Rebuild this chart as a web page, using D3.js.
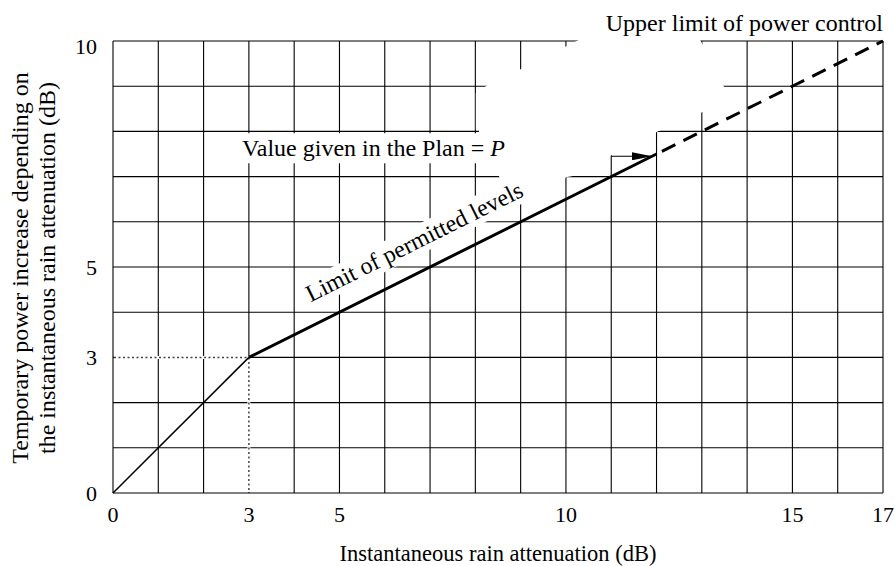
<!DOCTYPE html>
<html><head><meta charset="utf-8">
<script src="https://cdn.jsdelivr.net/npm/d3@7"></script>
<style>
html,body{margin:0;padding:0;background:#fff;}
svg{display:block;font-family:"Liberation Serif","Times New Roman",serif;}
</style></head>
<body><svg id="chart" width="895" height="566"></svg>
<script>
// ---- data ----
const attenuation   = [0, 3, 12, 17];      // x (dB)
const powerIncrease = [0, 3, 7.5, 10];     // y (dB)
const segmentStyle  = ["thin", "thick", "dashed"];
const xTickValues = [0, 3, 5, 10, 15, 17];
const yTickValues = [0, 3, 5, 10];
const gridXValues = d3.range(0, 18);
const gridYValues = d3.range(0, 11);
const kneeX = 3, kneeY = 3;
const planArrowX = [11, 11.9];
const planArrowY = 7.45;
const planLabelX = 2.85;
const limitLabelAt = [6.73, 5.4];
const xTitle = "Instantaneous rain attenuation (dB)";
const yTitle = ["Temporary power increase depending on", "the instantaneous rain attenuation (dB)"];
const limitLabel = "Limit of permitted levels";
const planLabel = "Value given in the Plan = ";
const planSymbol = "P";
const upperLabel = "Upper limit of power control";
// blank (unruled) area of the chart, in data units
const blankRegion = [[10.38,10.07],[12.94,10.07],[13.49,8.98],[13.07,8.45],[12.05,8.01],[11.06,7.50],
  [10.13,7.01],[10.02,6.99],[9.03,6.44],[8.54,6.97],[8.08,7.88],[8.08,8.03],[8.01,8.05],[8.01,8.85],[8.28,9.03],[9.01,9.38]];

// ---- layout ----
const svg = d3.select("#chart");
const x = d3.scaleLinear([0, 17], [113, 883]);
const y = d3.scaleLinear([0, 10], [493, 41]);

// grid
const g = svg.append("g");
g.selectAll(".vx").data(gridXValues).join("line")
  .attr("x1", d => x(d)).attr("x2", d => x(d)).attr("y1", y(0)).attr("y2", y(10))
  .attr("stroke", "#000").attr("stroke-width", 1.1);
g.selectAll(".hy").data(gridYValues).join("line")
  .attr("y1", d => y(d)).attr("y2", d => y(d)).attr("x1", x(0)).attr("x2", x(17))
  .attr("stroke", "#000").attr("stroke-width", 1.1);

// blank region
svg.append("path")
  .attr("d", d3.line().x(d => x(d[0])).y(d => y(d[1]))(blankRegion) + "Z")
  .attr("fill", "#fff");

// text with white background helper
function boxed(textSel, pad) {
  const bb = textSel.node().getBBox();
  const parent = d3.select(textSel.node().parentNode);
  parent.insert("rect", () => textSel.node())
    .attr("x", bb.x - pad[0]).attr("y", bb.y - pad[1])
    .attr("width", bb.width + 2 * pad[0]).attr("height", bb.height + 2 * pad[1])
    .attr("fill", "#fff");
}

// plan label
const planG = svg.append("g");
const planText = planG.append("text")
  .attr("x", x(planLabelX)).attr("y", y(planArrowY))
  .attr("font-size", 24).attr("fill", "#000");
planText.append("tspan").text(planLabel);
planText.append("tspan").attr("font-style", "italic").text(planSymbol);
boxed(planText, [1, 2]);

// limit label (rotated along the line)
const angle = Math.atan2(y(powerIncrease[2]) - y(powerIncrease[1]), x(attenuation[2]) - x(attenuation[1])) * 180 / Math.PI;
const limG = svg.append("g")
  .attr("transform", `translate(${x(limitLabelAt[0])},${y(limitLabelAt[1])}) rotate(${angle})`);
const limText = limG.append("text").attr("text-anchor", "middle")
  .attr("font-size", 24).attr("fill", "#000").text(limitLabel);
boxed(limText, [2, 1]);

// dotted guides (replace the ruling under them)
const guide = `M${x(0) + 1},${y(kneeY)}H${x(kneeX)}V${y(0) - 1}`;
svg.append("path").attr("d", guide)
  .attr("fill", "none").attr("stroke", "#fff").attr("stroke-width", 3);
svg.append("path").attr("d", guide)
  .attr("fill", "none").attr("stroke", "#444").attr("stroke-width", 1.5)
  .attr("stroke-dasharray", "2,2.5");

// limit curve
const pts = attenuation.map((a, i) => [x(a), y(powerIncrease[i])]);
segmentStyle.forEach((s, i) => {
  svg.append("line")
    .attr("x1", pts[i][0]).attr("y1", pts[i][1]).attr("x2", pts[i + 1][0]).attr("y2", pts[i + 1][1])
    .attr("stroke", "#000")
    .attr("stroke-width", s === "thin" ? 1.5 : 3)
    .attr("stroke-dasharray", s === "dashed" ? "15,9" : null)
    .attr("stroke-dashoffset", s === "dashed" ? -6 : null);
});

// plan arrow
svg.append("defs").append("marker").attr("id", "ah")
  .attr("viewBox", "0 0 20 8").attr("refX", 20).attr("refY", 4)
  .attr("markerWidth", 20).attr("markerHeight", 8).attr("markerUnits", "userSpaceOnUse")
  .attr("orient", "auto")
  .append("path").attr("d", "M0,0L20,4L0,8Z").attr("fill", "#000");
svg.append("line")
  .attr("x1", x(planArrowX[0])).attr("x2", x(planArrowX[1]))
  .attr("y1", y(planArrowY)).attr("y2", y(planArrowY))
  .attr("stroke", "#000").attr("stroke-width", 1)
  .attr("marker-end", "url(#ah)");

// upper label
svg.append("text").attr("x", x(17)).attr("y", y(10) - 10)
  .attr("text-anchor", "end").attr("font-size", 24).text(upperLabel);

// ticks
svg.selectAll(".xt").data(xTickValues).join("text")
  .attr("x", d => x(d)).attr("y", y(0) + 29).attr("text-anchor", "middle")
  .attr("font-size", 22).text(d => d);
svg.selectAll(".yt").data(yTickValues).join("text")
  .attr("x", x(0) - 16).attr("y", d => Math.max(y(d) + 8, y(10) + 13)).attr("text-anchor", "end")
  .attr("font-size", 22).text(d => d);

// axis titles
svg.append("text").attr("x", (x(0) + x(17)) / 2).attr("y", 561)
  .attr("text-anchor", "middle").attr("font-size", 22.5).text(xTitle);
yTitle.forEach((t, i) => {
  svg.append("text")
    .attr("transform", `translate(${28 + i * 27},${(y(0) + y(10)) / 2 + 1}) rotate(-90)`)
    .attr("text-anchor", "middle").attr("font-size", 24).text(t);
});
</script>
</body></html>
